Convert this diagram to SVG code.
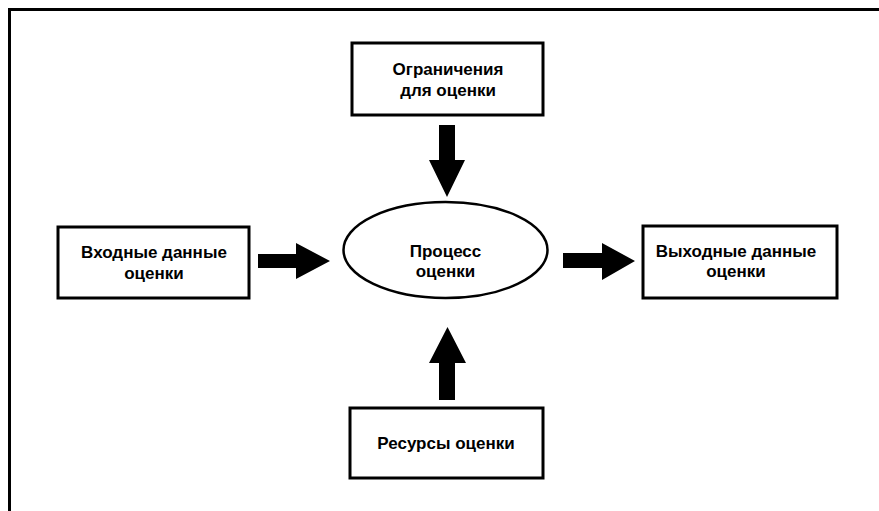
<svg xmlns="http://www.w3.org/2000/svg" width="879" height="511" viewBox="0 0 879 511">
  <style>
    .box { fill: #ffffff; stroke: #000000; stroke-width: 3; }
    .ell { fill: #ffffff; stroke: #000000; stroke-width: 2.5; }
    .lbl { font-family: "Liberation Sans", Arial, sans-serif; font-size: 17px; font-weight: bold; fill: #000000; text-anchor: middle; }
    .arr { fill: #000000; stroke: none; }
  </style>
  <rect width="879" height="511" fill="#ffffff"/>
  <path d="M9.5,511 V9.5 H879" fill="none" stroke="#000000" stroke-width="3"/>

  <g id="connectors">
    <path id="arrow-top" class="arr" d="M439,125 H455 V160 H465 L447,197 L429,160 H439 Z"/>
    <path id="arrow-bottom" class="arr" d="M439,400 H455 V363 H466 L447.5,327 L429,363 H439 Z"/>
    <path id="arrow-left" class="arr" d="M258,254 H296 V243 L330,261 L296,279 V268 H258 Z"/>
    <path id="arrow-right" class="arr" d="M563,253 H602 V243 L635,261 L602,280 V268 H563 Z"/>
  </g>

  <g id="node-constraints">
    <rect class="box" x="352" y="43" width="191" height="72"/>
    <text class="lbl" x="448" y="75">Ограничения</text>
    <text class="lbl" x="448" y="96">для оценки</text>
  </g>

  <g id="node-input">
    <rect class="box" x="58" y="227" width="191" height="71"/>
    <text class="lbl" x="154" y="258">Входные данные</text>
    <text class="lbl" x="154" y="279">оценки</text>
  </g>

  <g id="node-process">
    <ellipse class="ell" cx="445.5" cy="250" rx="102" ry="48"/>
    <text class="lbl" x="445.5" y="257">Процесс</text>
    <text class="lbl" x="445.5" y="277">оценки</text>
  </g>

  <g id="node-output">
    <rect class="box" x="643" y="226" width="194" height="72"/>
    <text class="lbl" x="736" y="257">Выходные данные</text>
    <text class="lbl" x="736" y="277">оценки</text>
  </g>

  <g id="node-resources">
    <rect class="box" x="350" y="408" width="193" height="70"/>
    <text class="lbl" x="446" y="449">Ресурсы оценки</text>
  </g>
</svg>
